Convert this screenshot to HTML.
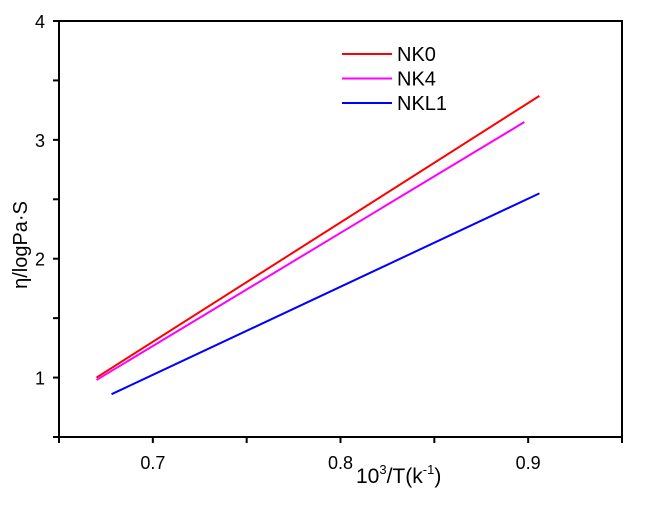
<!DOCTYPE html>
<html><head><meta charset="utf-8"><style>
body{margin:0;background:#fff}
svg text{font-family:"Liberation Sans",Arial,sans-serif;fill:#000}
</style></head><body>
<svg id="c" width="660" height="500" xmlns="http://www.w3.org/2000/svg"></svg>
<script>
const seriesNames=["NK0","NK4","NKL1"];
const seriesColors=["#ff0000","#ff00ff","#0000ff"];
const xValues=[[0.670,0.906],[0.670,0.898],[0.678,0.906]];
const yValues=[[1.00,3.37],[0.98,3.15],[0.86,2.55]];
const xTicks=[0.7,0.8,0.9];
const yTicks=[1,2,3,4];
const X0=59,X1=622,Y0=437,Y1=21;
const xs=v=>X0+(v-0.65)/(0.95-0.65)*(X1-X0);
const ys=v=>Y0-(v-0.5)/(4-0.5)*(Y0-Y1);
const svg=document.getElementById('c');
const NS='http://www.w3.org/2000/svg';
function mk(t,a,txt,fs){const e=document.createElementNS(NS,t);for(const k in a)e.setAttribute(k,a[k]);if(fs)e.style.fontSize=fs+'px';if(txt!=null)e.textContent=txt;svg.appendChild(e);return e;}
let e=mk('rect',{x:X0,y:Y1,width:X1-X0,height:Y0-Y1,fill:'none',stroke:'#000','stroke-width':2});


for(let v=0.65;v<=0.951;v+=0.05){const x=xs(v);e=mk('line',{x1:x,x2:x,y1:Y0,y2:Y0+6,stroke:'#000','stroke-width':2});

}
xTicks.forEach(v=>{e=mk('text',{x:xs(v),y:Y0+32,'text-anchor':'middle'},v.toFixed(1),18);

});
for(let v=0.5;v<=4.01;v+=0.5){const y=ys(v);e=mk('line',{x1:X0-6,x2:X0,y1:y,y2:y,stroke:'#000','stroke-width':2});

}
yTicks.forEach(v=>{e=mk('text',{x:X0-14,y:ys(v)+7,'text-anchor':'end'},String(v),18);

});
seriesNames.forEach((n,i)=>{
 const pts=xValues[i].map((x,j)=>xs(x)+','+ys(yValues[i][j])).join(' ');
 e=mk('polyline',{points:pts,fill:'none',stroke:seriesColors[i],'stroke-width':2});
 
 
 const ly=54+i*24.5;
 e=mk('line',{x1:342,x2:392,y1:ly,y2:ly,stroke:seriesColors[i],'stroke-width':2});
 
 
 e=mk('text',{x:397,y:ly+7},n,20);
 
 
});
e=mk('text',{x:356,y:483},null,21);


e.innerHTML='10<tspan dy="-9" style="font-size:13px">3</tspan><tspan dy="9">/T(k</tspan><tspan dy="-9" style="font-size:13px">-1</tspan><tspan dy="9">)</tspan>';
e=mk('text',{x:0,y:0,'text-anchor':'middle',transform:'translate(27,245) rotate(-90)'},'η/logPa·S',20);


</script>
</body></html>
